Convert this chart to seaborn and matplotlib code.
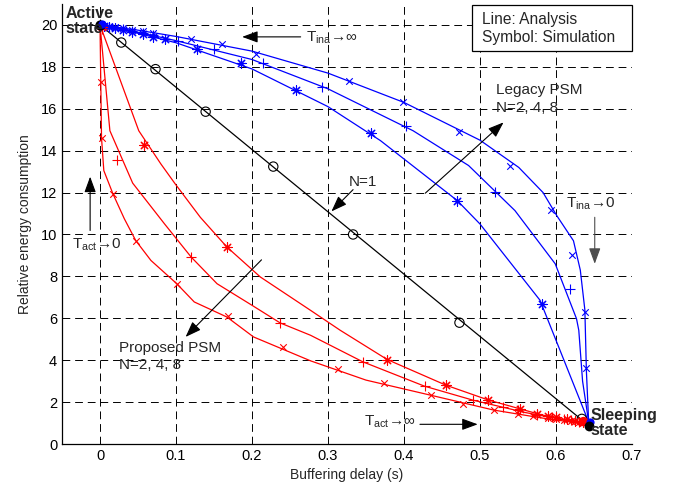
import matplotlib
matplotlib.use('Agg')
import matplotlib.pyplot as plt
import matplotlib.patches as mpatches
import seaborn as sns

# ---- data ----
# N=1 (black)
n1_line_x = [0, 0.634]
n1_line_y = [20, 1.15]
n1_sim_x = [0.028, 0.073, 0.139, 0.228, 0.333, 0.473, 0.634]
n1_sim_y = [19.16, 17.89, 15.86, 13.24, 10.0, 5.79, 1.2]

# Legacy PSM (blue), outer 'x' / middle '+' / inner '*'
leg_x_line_x = [0, 0.05, 0.1, 0.2, 0.3, 0.4, 0.45, 0.5, 0.551, 0.583, 0.601, 0.623, 0.632, 0.638, 0.640, 0.643]
leg_x_line_y = [20, 19.75, 19.45, 18.75, 17.7, 16.3, 15.4, 14.5, 13.2, 12.0, 10.9, 9.7, 8.3, 6.4, 3.5, 1.05]
leg_x_sim_x = [0.005, 0.012, 0.02, 0.03, 0.042, 0.056, 0.07, 0.120, 0.161, 0.205, 0.327, 0.399, 0.472, 0.540, 0.594, 0.621, 0.638, 0.640]
leg_x_sim_y = [19.97, 19.93, 19.89, 19.84, 19.78, 19.71, 19.63, 19.32, 19.08, 18.6, 17.33, 16.3, 14.9, 13.29, 11.19, 9.03, 6.3, 3.64]

leg_p_line_x = [0, 0.05, 0.1, 0.2, 0.3, 0.412, 0.485, 0.546, 0.599, 0.627, 0.630, 0.635, 0.643]
leg_p_line_y = [20, 19.65, 19.25, 18.35, 16.95, 14.95, 13.29, 11.14, 8.6, 5.98, 5.43, 3.0, 1.05]
leg_p_sim_x = [0.005, 0.012, 0.02, 0.03, 0.042, 0.056, 0.07, 0.102, 0.150, 0.214, 0.292, 0.402, 0.520, 0.618]
leg_p_sim_y = [19.96, 19.92, 19.86, 19.79, 19.71, 19.61, 19.5, 19.24, 18.84, 18.2, 17.05, 15.19, 12.01, 7.41]

leg_s_line_x = [0, 0.05, 0.1, 0.2, 0.3, 0.369, 0.470, 0.5, 0.579, 0.643]
leg_s_line_y = [20, 19.6, 19.15, 17.9, 16.1, 14.48, 11.62, 10.5, 6.86, 1.05]
leg_s_sim_x = [0.005, 0.012, 0.02, 0.03, 0.042, 0.056, 0.07, 0.086, 0.128, 0.186, 0.258, 0.356, 0.470, 0.581]
leg_s_sim_y = [19.96, 19.9, 19.84, 19.76, 19.66, 19.55, 19.42, 19.32, 18.84, 18.16, 16.89, 14.82, 11.59, 6.7]

# Proposed PSM (red), inner 'x' / middle '+' / outer '*'
pro_x_line_x = [0, 0.002, 0.005, 0.017, 0.032, 0.047, 0.067, 0.101, 0.124, 0.167, 0.202, 0.277, 0.35, 0.435, 0.518, 0.58, 0.64]
pro_x_line_y = [20, 14.6, 13.05, 11.94, 10.75, 9.71, 8.76, 7.65, 6.78, 6.06, 5.11, 3.97, 3.05, 2.33, 1.62, 1.25, 0.95]
pro_x_sim_x = [0.001, 0.002, 0.017, 0.047, 0.101, 0.168, 0.241, 0.313, 0.374, 0.435, 0.478, 0.518, 0.55, 0.57, 0.59, 0.60, 0.61, 0.62, 0.63, 0.636]
pro_x_sim_y = [17.3, 14.6, 11.94, 9.71, 7.65, 6.1, 4.63, 3.6, 2.89, 2.33, 1.9, 1.62, 1.45, 1.35, 1.25, 1.2, 1.15, 1.1, 1.05, 1.0]

pro_p_line_x = [0, 0.013, 0.043, 0.085, 0.120, 0.154, 0.200, 0.237, 0.277, 0.346, 0.427, 0.491, 0.56, 0.64]
pro_p_line_y = [20, 14.95, 12.45, 10.5, 8.92, 7.65, 6.62, 5.78, 5.19, 3.92, 2.76, 2.09, 1.5, 0.95]
pro_p_sim_x = [0.002, 0.023, 0.120, 0.237, 0.346, 0.427, 0.491, 0.53, 0.55, 0.575, 0.595, 0.61, 0.62, 0.63]
pro_p_sim_y = [19.8, 13.56, 8.92, 5.78, 3.92, 2.76, 2.09, 1.75, 1.6, 1.4, 1.3, 1.2, 1.15, 1.05]

pro_s_line_x = [0, 0.051, 0.080, 0.099, 0.132, 0.167, 0.211, 0.277, 0.316, 0.378, 0.455, 0.511, 0.58, 0.64]
pro_s_line_y = [20, 14.95, 13.37, 12.41, 10.82, 9.4, 7.97, 6.38, 5.43, 4.03, 2.81, 2.1, 1.4, 0.95]
pro_s_sim_x = [0.003, 0.058, 0.167, 0.378, 0.455, 0.511, 0.552, 0.575, 0.59, 0.60, 0.615, 0.625, 0.635]
pro_s_sim_y = [19.9, 14.29, 9.4, 4.03, 2.81, 2.1, 1.65, 1.45, 1.35, 1.3, 1.2, 1.12, 1.05]

x_ticks = [0, 0.1, 0.2, 0.3, 0.4, 0.5, 0.6, 0.7]
y_ticks = [0, 2, 4, 6, 8, 10, 12, 14, 16, 18, 20]

sns.set_style('white')
plt.rcParams['font.family'] = ['Liberation Sans', 'DejaVu Sans']
plt.rcParams['mathtext.default'] = 'regular'

fig = plt.figure(figsize=(6.77, 4.91), dpi=100)
ax = fig.add_axes([0.0916, 0.0957, 0.8419, 0.8962])

BLUE = '#0000ff'
RED = '#ff0000'
asterisk = (8, 2, 0)

def line(xs, ys, c):
    sns.lineplot(x=xs, y=ys, sort=False, estimator=None, color=c, lw=0.9, ax=ax, zorder=3)

def sim(xs, ys, c, m, s):
    sns.scatterplot(x=xs, y=ys, marker=m, color=c, s=s, linewidth=0.8, ax=ax, zorder=4)

# N=1
line(n1_line_x, n1_line_y, 'k')
sns.scatterplot(x=n1_sim_x, y=n1_sim_y, marker='o', facecolor='none', edgecolor='k',
                s=45, linewidth=0.8, ax=ax, zorder=4)

# Legacy PSM
line(leg_x_line_x, leg_x_line_y, BLUE)
line(leg_p_line_x, leg_p_line_y, BLUE)
line(leg_s_line_x, leg_s_line_y, BLUE)
sim(leg_x_sim_x, leg_x_sim_y, BLUE, 'x', 22)
sim(leg_p_sim_x, leg_p_sim_y, BLUE, '+', 50)
sim(leg_s_sim_x, leg_s_sim_y, BLUE, asterisk, 45)

# Proposed PSM
line(pro_x_line_x, pro_x_line_y, RED)
line(pro_p_line_x, pro_p_line_y, RED)
line(pro_s_line_x, pro_s_line_y, RED)
sim(pro_x_sim_x, pro_x_sim_y, RED, 'x', 22)
sim(pro_p_sim_x, pro_p_sim_y, RED, '+', 50)
sim(pro_s_sim_x, pro_s_sim_y, RED, asterisk, 45)

# state dots
sns.scatterplot(x=[0], y=[20], color='k', s=55, linewidth=0, ax=ax, zorder=5)
sns.scatterplot(x=[0.002], y=[20.05], color=BLUE, s=35, linewidth=0, ax=ax, zorder=6)
sns.scatterplot(x=[0.635], y=[1.1], color=RED, s=45, linewidth=0, ax=ax, zorder=5)
sns.scatterplot(x=[0.645], y=[1.06], color=BLUE, s=35, linewidth=0, ax=ax, zorder=5)
sns.scatterplot(x=[0.643], y=[0.87], color='k', s=50, linewidth=0, ax=ax, zorder=6)

ax.set_xlim(-0.05, 0.7)
ax.set_ylim(0, 21)
ax.set_xticks(x_ticks)
ax.set_xticklabels(['0', '0.1', '0.2', '0.3', '0.4', '0.5', '0.6', '0.7'])
ax.set_yticks(y_ticks)
ax.grid(True, color='k', linestyle=(0, (8, 5)), lw=0.7)
ax.set_axisbelow(True)
ax.tick_params(direction='in', length=4, width=0.8, labelsize=10.5, colors='k')
for side in ['top', 'right']:
    ax.spines[side].set_visible(False)
for side in ['left', 'bottom']:
    ax.spines[side].set_color('k')
    ax.spines[side].set_linewidth(0.9)
ax.set_xlabel('Buffering delay (s)', fontsize=10, labelpad=4)
ax.set_ylabel('Relative energy consumption', fontsize=10, labelpad=6)

# legend-like box
ax.add_patch(mpatches.Rectangle((0.7188, 0.893), 0.2812, 0.105, transform=ax.transAxes,
                                fill=True, facecolor='white', edgecolor='k', lw=0.9,
                                zorder=7, clip_on=False))
ax.text(0.736, 0.9636, 'Line: Analysis', transform=ax.transAxes, fontsize=11.2,
        va='center', zorder=8)
ax.text(0.736, 0.9227, 'Symbol: Simulation', transform=ax.transAxes, fontsize=11.2,
        va='center', zorder=8)

# state labels
ax.text(-0.045, 20.9, 'Active\nstate', fontsize=11.5, fontweight='bold', va='top',
        linespacing=1.0, zorder=8)
ax.text(0.646, 1.7, 'Sleeping\nstate', fontsize=11.5, fontweight='bold', va='top',
        linespacing=1.0, zorder=8)

# annotation texts
ts = 11
ax.text(0.2705, 19.2, r'T$_{ina}$→∞', fontsize=ts, va='baseline', zorder=8)
ax.text(0.5213, 16.7, 'Legacy PSM', fontsize=ts, va='baseline', zorder=8)
ax.text(0.5213, 15.86, 'N=2, 4, 8', fontsize=ts, va='baseline', zorder=8)
ax.text(0.613, 11.27, r'T$_{ina}$→0', fontsize=ts, va='baseline', zorder=8)
ax.text(0.327, 12.29, 'N=1', fontsize=ts, va='baseline', zorder=8)
ax.text(-0.0363, 9.32, r'T$_{act}$→0', fontsize=ts, va='baseline', zorder=8)
ax.text(0.025, 4.40, 'Proposed PSM', fontsize=ts, va='baseline', zorder=8)
ax.text(0.025, 3.60, 'N=2, 4, 8', fontsize=ts, va='baseline', zorder=8)
ax.text(0.348, 0.9, r'T$_{act}$→∞', fontsize=ts, va='baseline', zorder=8)

arrow = dict(arrowstyle='-|>,head_length=0.6,head_width=0.22', color='k', lw=0.8,
             mutation_scale=16, shrinkA=0, shrinkB=0)

def arr(x0, y0, x1, y1, c='k'):
    p = dict(arrow)
    p['color'] = c
    ax.annotate('', xy=(x1, y1), xytext=(x0, y0), arrowprops=p, zorder=8)

arr(0.264, 19.43, 0.187, 19.43)
arr(0.428, 11.97, 0.531, 15.35)
arr(0.651, 10.82, 0.651, 8.6, '0.3')
arr(0.333, 12.14, 0.3045, 11.1)
arr(-0.013, 10.19, -0.013, 12.76)
arr(0.2125, 8.79, 0.1126, 5.11)
arr(0.421, 0.94, 0.497, 0.94)

fig.savefig('out.png', dpi=100)
